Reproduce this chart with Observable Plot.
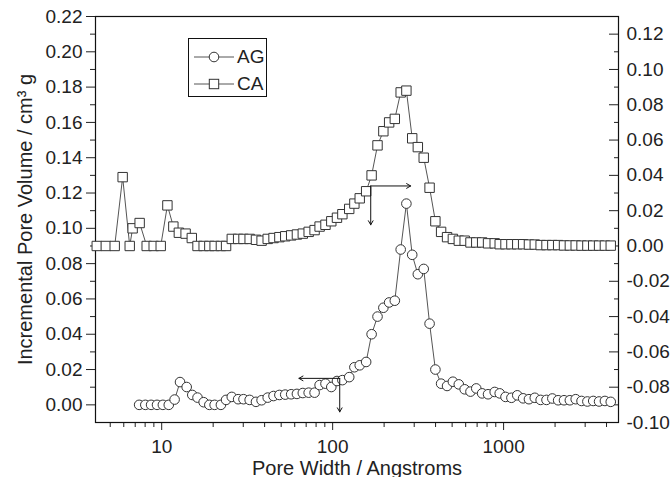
<!DOCTYPE html>
<html><head><meta charset="utf-8">
<script src="https://cdn.jsdelivr.net/npm/d3@7"></script>
<script src="https://cdn.jsdelivr.net/npm/@observablehq/plot@0.6"></script>
<style>
body{margin:0;background:#fff;}
#wrap{position:relative;width:671px;height:477px;font-family:"Liberation Sans",Arial,sans-serif;color:#222;}
#legend{position:absolute;left:188px;top:38px;width:79px;height:59px;border:1px solid #111;box-sizing:border-box;background:#fff;}
#legend .row{position:absolute;left:0;height:20px;display:flex;align-items:center;}
#legend svg{display:block;}
#legend span{font-size:19px;margin-left:3px;}
</style></head><body><div id="wrap"><div id="legend"></div></div>
<script>
// AG series (left axis)
const agX = [7.38,8.02,8.67,9.39,10.16,11.0,11.9,12.8,14.0,15.1,16.2,17.6,19.0,20.4,22.2,23.8,25.7,28.0,30.1,32.7,35.6,38.4,41.7,45.1,48.8,52.8,57.2,61.8,66.9,72.4,78.4,83.9,90.8,98.2,106,114,125,134,144,157,169,183,198,214,231,250,270,292,315,341,369,399,431,467,505,547,592,640,692,749,811,887,949,1026,1111,1202,1301,1407,1522,1647,1782,1928,2085,2256,2441,2641,2857,3091,3344,3618,3914,4234];
const agY = [0,0,0,0,0,0,0.003,0.0129,0.0101,0.0056,0.0041,0.0015,0,0,0,0.0028,0.0045,0.0032,0.0032,0.0028,0.0017,0.0026,0.0041,0.005,0.0056,0.0058,0.006,0.0062,0.0067,0.0069,0.0069,0.0112,0.012,0.0101,0.0135,0.014,0.0157,0.0213,0.0224,0.0243,0.040,0.050,0.055,0.058,0.059,0.088,0.114,0.085,0.074,0.077,0.046,0.020,0.012,0.0107,0.0131,0.0116,0.0088,0.0075,0.0093,0.0065,0.006,0.0073,0.0065,0.0045,0.004,0.0054,0.0037,0.0032,0.004,0.0028,0.0028,0.0036,0.0026,0.0026,0.0026,0.0032,0.0022,0.0019,0.0022,0.0019,0.0022,0.0017];
// CA series (right axis)
const caX = [4.17,4.71,5.31,5.91,6.50,6.76,7.43,8.17,8.98,9.87,10.8,11.7,12.6,13.8,15.0,16.2,17.6,19.0,20.4,22.2,23.8,25.7,28.0,30.1,32.7,35.6,38.4,41.7,45.1,48.8,52.8,57.2,61.8,66.9,72.4,78.4,83.9,90.8,98.2,106,114,125,134,144,157,169,183,198,214,231,250,270,292,315,341,369,399,431,467,505,547,592,640,692,749,811,887,949,1026,1111,1202,1301,1407,1522,1647,1782,1928,2085,2256,2441,2641,2857,3091,3344,3618,3914,4234];
const caY = [0,0,0,0.039,0,0.010,0.013,0,0,0,0.023,0.011,0.0075,0.007,0.0045,0,0,0,0,0,0,0.004,0.004,0.004,0.004,0.0035,0.003,0.004,0.0045,0.005,0.0055,0.006,0.0065,0.007,0.008,0.009,0.011,0.012,0.014,0.016,0.018,0.021,0.024,0.027,0.031,0.040,0.057,0.065,0.070,0.072,0.087,0.088,0.061,0.056,0.050,0.033,0.014,0.008,0.005,0.004,0.003,0.003,0.002,0.002,0.002,0.0015,0.0015,0.001,0.001,0.001,0.001,0.001,0.0008,0.0008,0.0005,0.0005,0.0005,0.0005,0.0003,0.0003,0.0003,0.0002,0.0002,0.0002,0.0002,0.0002,0.0002];
const caOffset = 0.09; // right axis value = left axis value - 0.09
// axis ticks
const leftTicks = [0,0.02,0.04,0.06,0.08,0.10,0.12,0.14,0.16,0.18,0.20,0.22];
const leftMinor = [0.01,0.03,0.05,0.07,0.09,0.11,0.13,0.15,0.17,0.19,0.21];
const rightTicks = [-0.10,-0.08,-0.06,-0.04,-0.02,0,0.02,0.04,0.06,0.08,0.10,0.12];
const rightMinor = [-0.09,-0.07,-0.05,-0.03,-0.01,0.01,0.03,0.05,0.07,0.09,0.11];
const xTicks = [10,100,1000];
const xMinor = [5,6,7,8,9,20,30,40,50,60,70,80,90,200,300,400,500,600,700,800,900,2000,3000,4000];
// annotation arrows [x1,y1(left units),x2,y2]
const arrowX1 = [110,110,167,167];
const arrowY1 = [0.015,0.015,0.124,0.124];
const arrowX2 = [63.5,110,286,167];
const arrowY2 = [0.015,-0.004,0.124,0.102];
const seriesNames = ["AG","CA"];

const ag = agX.map((x,i)=>({x, y: agY[i]}));
const ca = caX.map((x,i)=>({x, y: caY[i] + caOffset}));
const arrows = arrowX1.map((x1,i)=>({x1, y1: arrowY1[i], x2: arrowX2[i], y2: arrowY2[i]}));
const f2 = d => (Math.round(d*100)/100).toFixed(2).replace("-0.00","0.00");
const fmtR = d => f2(Math.round((d - caOffset)*100)/100);
const FS = 19, TS = 20;
const ink = "#222";

const chart = Plot.plot({
  width: 671, height: 477,
  marginLeft: 95, marginRight: 53, marginTop: 16, marginBottom: 55,
  style: {fontFamily: "'Liberation Sans', Arial, sans-serif", fontSize: FS + "px", color: ink, background: "white"},
  x: {type: "log", domain: [4.1, 4700]},
  y: {domain: [-0.01, 0.22]},
  marks: [
    Plot.axisY({ticks: leftTicks, tickSize: 9, tickPadding: 4, tickFormat: f2, fontSize: FS, label: null}),
    Plot.axisY({ticks: leftMinor, tickSize: 5, tickFormat: () => "", label: null}),
    Plot.axisY({anchor: "right", ticks: rightTicks.map(v => v + caOffset), tickSize: 10, dx: -10, tickFormat: () => "", label: null}),
    Plot.axisY({anchor: "right", ticks: rightMinor.map(v => v + caOffset), tickSize: 5, dx: -5, tickFormat: () => "", label: null}),
    Plot.axisY({anchor: "right", ticks: rightTicks.map(v => v + caOffset), tickSize: 0, tickPadding: 8, tickFormat: fmtR, fontSize: FS, label: null}),
    Plot.axisX({ticks: xTicks, tickSize: 8, tickPadding: 9, tickFormat: d3.format("d"), fontSize: FS, label: null}),
    Plot.axisX({ticks: xMinor, tickSize: 5, tickFormat: () => "", label: null}),
    Plot.frame({stroke: "#111", strokeWidth: 1.2}),
    Plot.line(ag, {x: "x", y: "y", stroke: "#555", strokeWidth: 1}),
    Plot.line(ca, {x: "x", y: "y", stroke: "#555", strokeWidth: 1}),
    Plot.dot(ag, {x: "x", y: "y", r: 4.8, fill: "white", stroke: "#333", strokeWidth: 1}),
    Plot.dot(ca, {x: "x", y: "y", symbol: "square", r: 5.3, fill: "white", stroke: "#333", strokeWidth: 1}),
    Plot.arrow(arrows, {x1: "x1", y1: "y1", x2: "x2", y2: "y2", stroke: "#111", strokeWidth: 1, headLength: 7}),
    Plot.text(["Incremental Pore Volume / cm³ g"], {text: d => d, frameAnchor: "left", textAnchor: "middle", rotate: -90, dx: -70, fontSize: TS, fill: ink}),
    Plot.text(["Pore Width / Angstroms"], {text: d => d, frameAnchor: "bottom", textAnchor: "middle", dy: 52, fontSize: TS, fill: ink})
  ]
});
document.getElementById("wrap").prepend(chart);

// legend
const lg = document.getElementById("legend");
seriesNames.forEach((name, i) => {
  const row = document.createElement("div");
  row.className = "row";
  row.style.top = (8 + 27*i) + "px";
  row.style.left = "5px";
  const sym = i === 0
    ? '<circle cx="20" cy="10" r="4.8" fill="white" stroke="#333"/>'
    : '<rect x="15.3" y="5.3" width="9.4" height="9.4" fill="white" stroke="#333"/>';
  row.innerHTML = '<svg width="40" height="20"><line x1="0" y1="10" x2="40" y2="10" stroke="#555"/>' + sym + '</svg><span>' + name + '</span>';
  lg.appendChild(row);
});
</script></body></html>
